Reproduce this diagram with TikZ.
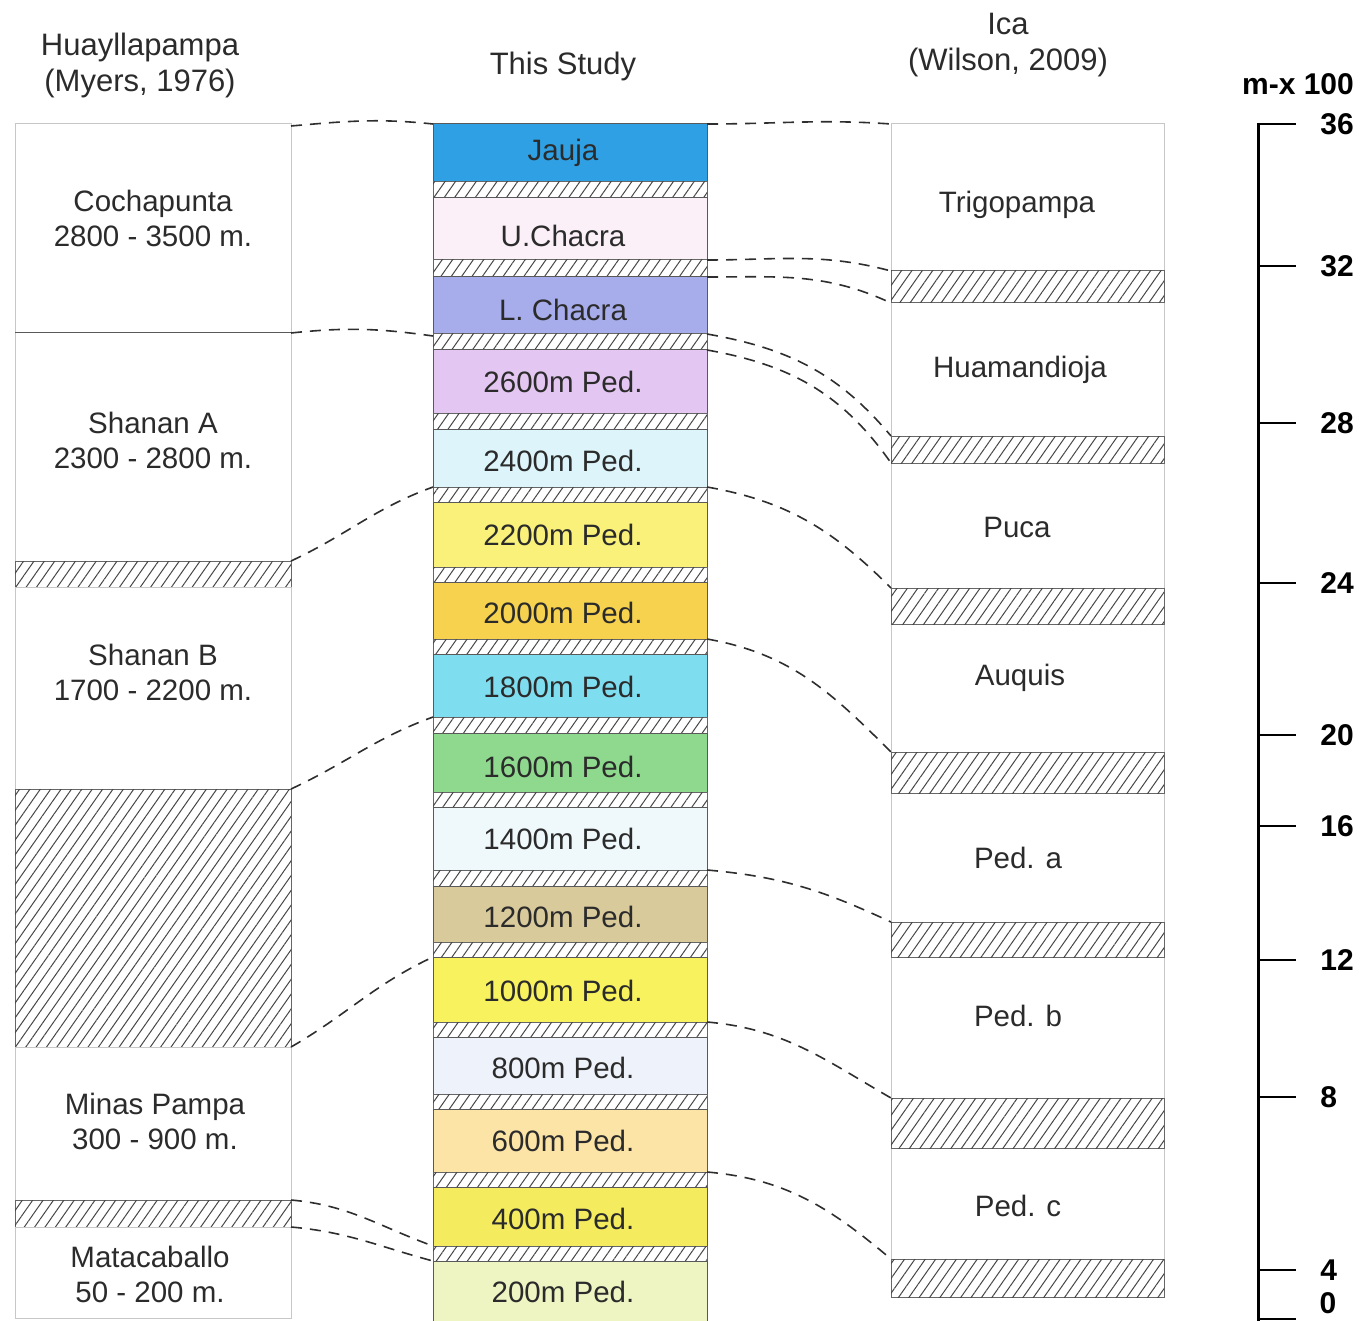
\documentclass[tikz,border=0pt]{standalone}
\usepackage{fontspec}
\setmainfont{Liberation Sans}
\usetikzlibrary{patterns.meta}

\definecolor{ink}{HTML}{2B2B2B}
\definecolor{cJauja}{HTML}{2FA0E3}
\definecolor{cUChacra}{HTML}{FBF0F8}
\definecolor{cLChacra}{HTML}{A7ACEA}
\definecolor{cP2600}{HTML}{E4C6F2}
\definecolor{cP2400}{HTML}{DDF5FA}
\definecolor{cP2200}{HTML}{F9F17A}
\definecolor{cP2000}{HTML}{F6D24E}
\definecolor{cP1800}{HTML}{7FDDF0}
\definecolor{cP1600}{HTML}{8FD98F}
\definecolor{cP1400}{HTML}{EFF8FB}
\definecolor{cP1200}{HTML}{D9CA9C}
\definecolor{cP1000}{HTML}{F8F25E}
\definecolor{cP800}{HTML}{EEF2FB}
\definecolor{cP600}{HTML}{FCE4A6}
\definecolor{cP400}{HTML}{F4EC5E}
\definecolor{cP200}{HTML}{EEF5C2}

\tikzset{
  lbl/.style={font=\fontsize{29.5}{35}\selectfont, text=ink, align=center},
  head/.style={font=\fontsize{31}{36}\selectfont, text=ink, align=center},
  unitlbl/.style={font=\bfseries\fontsize{30}{34}\selectfont, text=black},
  num/.style={unitlbl, anchor=west, xshift=20pt},
  frame/.style={draw=black!22, line width=1pt},
  unit/.style={draw=black!65, line width=1pt},
  hatch/.style={draw=black!60, line width=1pt, fill=white,
    postaction={pattern={Lines[angle=55,distance=8.5pt,line width=1pt]}, pattern color=black!72}},
  tie/.style={draw=black!82, line width=1.6pt, dash pattern=on 11pt off 8pt},
  tick/.style={line width=2.2pt},
}

\begin{document}
\begin{tikzpicture}[x=1pt,y=-1pt]
\useasboundingbox (0,0) rectangle (1362,1321);

% headings
\node[head] (hua) at (140,65) {Huayllapampa\\(Myers, 1976)};
\node[head] (this) at (563,66) {This Study};
\node[head] (ica) at (1008,45) {Ica\\(Wilson, 2009)};
\node[unitlbl] (mx) at (1298,84) {m-x 100};

% Huayllapampa column
\draw[frame] (15,124) rectangle (291,333);
\draw[frame] (15,333) rectangle (291,561);
\draw[hatch] (15,561) rectangle (291,587);
\draw[frame] (15,587) rectangle (291,789);
\draw[hatch] (15,789) rectangle (291,1047);
\draw[frame] (15,1047) rectangle (291,1200);
\draw[hatch] (15,1200) rectangle (291,1227);
\draw[frame] (15,1227) rectangle (291,1318);
\draw[unit] (15,333) -- (291,333);
\node[lbl] (coch) at (153,218) {Cochapunta\\2800 - 3500 m.};
\node[lbl] (shA) at (153,440) {Shanan A\\2300 - 2800 m.};
\node[lbl] (shB) at (153,672) {Shanan B\\1700 - 2200 m.};
\node[lbl] (minas) at (155,1121) {Minas Pampa\\300 - 900 m.};
\node[lbl] (mata) at (150,1274) {Matacaballo\\50 - 200 m.};

% this study column
\draw[unit, fill=cJauja] (433,124) rectangle (707,182);
\draw[hatch] (433,182) rectangle (707,198);
\draw[unit, fill=cUChacra] (433,198) rectangle (707,260);
\draw[hatch] (433,260) rectangle (707,277);
\draw[unit, fill=cLChacra] (433,277) rectangle (707,334);
\draw[hatch] (433,334) rectangle (707,350);
\draw[unit, fill=cP2600] (433,350) rectangle (707,413);
\draw[hatch] (433,413) rectangle (707,429);
\draw[unit, fill=cP2400] (433,429) rectangle (707,487);
\draw[hatch] (433,487) rectangle (707,502);
\draw[unit, fill=cP2200] (433,502) rectangle (707,567);
\draw[hatch] (433,567) rectangle (707,582);
\draw[unit, fill=cP2000] (433,582) rectangle (707,639);
\draw[hatch] (433,639) rectangle (707,654);
\draw[unit, fill=cP1800] (433,654) rectangle (707,717);
\draw[hatch] (433,717) rectangle (707,733);
\draw[unit, fill=cP1600] (433,733) rectangle (707,792);
\draw[hatch] (433,792) rectangle (707,807);
\draw[unit, fill=cP1400] (433,807) rectangle (707,870);
\draw[hatch] (433,870) rectangle (707,886);
\draw[unit, fill=cP1200] (433,886) rectangle (707,942);
\draw[hatch] (433,942) rectangle (707,957);
\draw[unit, fill=cP1000] (433,957) rectangle (707,1022);
\draw[hatch] (433,1022) rectangle (707,1037);
\draw[unit, fill=cP800] (433,1037) rectangle (707,1094);
\draw[hatch] (433,1094) rectangle (707,1109);
\draw[unit, fill=cP600] (433,1109) rectangle (707,1172);
\draw[hatch] (433,1172) rectangle (707,1187);
\draw[unit, fill=cP400] (433,1187) rectangle (707,1246);
\draw[hatch] (433,1246) rectangle (707,1261);
\draw[unit, fill=cP200] (433,1261) rectangle (707,1323);
\node[lbl] (jauja) at (563,153) {Jauja};
\node[lbl] (uch) at (563,236) {U.Chacra};
\node[lbl] (lch) at (563,310) {L. Chacra};
\node[lbl] (p2600) at (563,382) {2600m Ped.};
\node[lbl] (p2400) at (563,461) {2400m Ped.};
\node[lbl] (p2200) at (563,535) {2200m Ped.};
\node[lbl] (p2000) at (563,613) {2000m Ped.};
\node[lbl] (p1800) at (563,687) {1800m Ped.};
\node[lbl] (p1600) at (563,767) {1600m Ped.};
\node[lbl] (p1400) at (563,839) {1400m Ped.};
\node[lbl] (p1200) at (563,917) {1200m Ped.};
\node[lbl] (p1000) at (563,991) {1000m Ped.};
\node[lbl] (p800) at (563,1068) {800m Ped.};
\node[lbl] (p600) at (563,1141) {600m Ped.};
\node[lbl] (p400) at (563,1219) {400m Ped.};
\node[lbl] (p200) at (563,1292) {200m Ped.};

% Ica column
\draw[frame] (891,124) rectangle (1164,1297);
\draw[hatch] (891,271) rectangle (1164,303);
\draw[hatch] (891,436) rectangle (1164,463);
\draw[hatch] (891,588) rectangle (1164,624);
\draw[hatch] (891,752) rectangle (1164,793);
\draw[hatch] (891,922) rectangle (1164,957);
\draw[hatch] (891,1098) rectangle (1164,1148);
\draw[hatch] (891,1259) rectangle (1164,1297);
\node[lbl] (trigo) at (1017,205) {Trigopampa};
\node[lbl] (huam) at (1020,370) {Huamandioja};
\node[lbl] (puca) at (1017,527) {Puca};
\node[lbl] (auq) at (1020,678) {Auquis};
\node[lbl] (peda) at (1018,858) {Ped. a};
\node[lbl] (pedb) at (1018,1016) {Ped. b};
\node[lbl] (pedc) at (1018,1206) {Ped. c};

% tie points
\coordinate (L1) at (291,126);
\coordinate (L2) at (291,333);
\coordinate (L3) at (291,561);
\coordinate (L4) at (291,789);
\coordinate (L5) at (291,1047);
\coordinate (L6) at (291,1200);
\coordinate (L7) at (291,1227);
\coordinate (M1) at (433,124);
\coordinate (M2) at (433,336);
\coordinate (M3) at (433,487);
\coordinate (M4) at (433,717);
\coordinate (M5) at (433,957);
\coordinate (M6) at (433,1246);
\coordinate (M7) at (433,1261);
\coordinate (N1) at (707,124);
\coordinate (N2) at (707,260);
\coordinate (N3) at (707,277);
\coordinate (N4) at (707,334);
\coordinate (N5) at (707,350);
\coordinate (N6) at (707,487);
\coordinate (N7) at (707,639);
\coordinate (N8) at (707,870);
\coordinate (N9) at (707,1022);
\coordinate (N10) at (707,1172);
\coordinate (R1) at (891,124);
\coordinate (R2) at (891,271);
\coordinate (R3) at (891,303);
\coordinate (R4) at (891,436);
\coordinate (R5) at (891,463);
\coordinate (R6) at (891,588);
\coordinate (R7) at (891,752);
\coordinate (R8) at (891,922);
\coordinate (R9) at (891,1098);
\coordinate (R10) at (891,1259);

% correlation ties
\draw[tie] (L1) to[out=5,in=174] (M1);
\draw[tie] (L2) to[out=6,in=172] (M2);
\draw[tie] (L3) to[out=25,in=200] (M3);
\draw[tie] (L4) to[out=25,in=200] (M4);
\draw[tie] (L5) to[out=30,in=205] (M5);
\draw[tie] (L6) to[out=-5,in=160] (M6);
\draw[tie] (L7) to[out=-5,in=165] (M7);
\draw[tie] (N1) to[out=0,in=176] (R1);
\draw[tie] (N2) to[out=0,in=165] (R2);
\draw[tie] (N3) to[out=0,in=155] (R3);
\draw[tie] (N4) to[out=-10,in=130] (R4);
\draw[tie] (N5) to[out=-10,in=125] (R5);
\draw[tie] (N6) to[out=-10,in=135] (R6);
\draw[tie] (N7) to[out=-10,in=135] (R7);
\draw[tie] (N8) to[out=-5,in=155] (R8);
\draw[tie] (N9) to[out=-5,in=150] (R9);
\draw[tie] (N10) to[out=-5,in=140] (R10);

% scale bar
\draw[line width=3pt] (1258,123) -- (1258,1321);
\draw[tick] (1257,124) -- (1296,124) node[num] (s36) {36};
\draw[tick] (1258,266) -- (1296,266) node[num] (s32) {32};
\draw[tick] (1258,423) -- (1296,423) node[num] (s28) {28};
\draw[tick] (1258,583) -- (1296,583) node[num] (s24) {24};
\draw[tick] (1258,735) -- (1296,735) node[num] (s20) {20};
\draw[tick] (1258,826) -- (1296,826) node[num] (s16) {16};
\draw[tick] (1258,960) -- (1296,960) node[num] (s12) {12};
\draw[tick] (1258,1097) -- (1296,1097) node[num] (s8) {8};
\draw[tick] (1258,1270) -- (1296,1270) node[num] (s4) {4};
\draw[tick] (1258,1319) -- (1296,1319);
\node[num] (s0) at (1296,1303) {0};
\end{tikzpicture}
\end{document}
